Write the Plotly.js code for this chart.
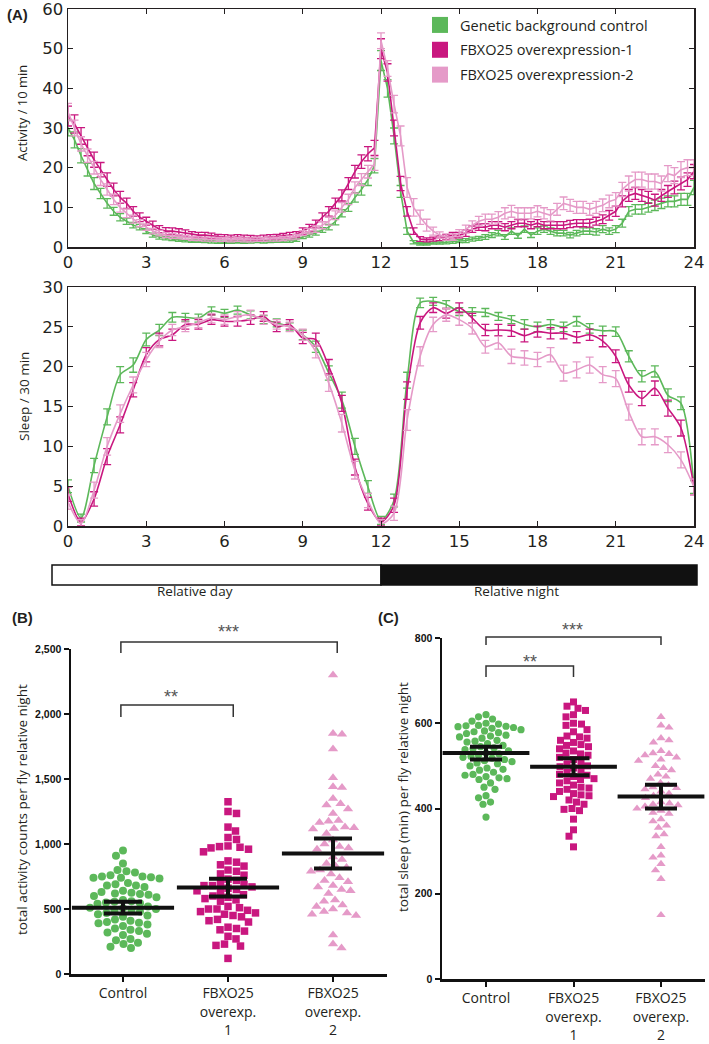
<!DOCTYPE html>
<html>
<head>
<meta charset="utf-8">
<script src="https://cdn.plot.ly/plotly-3.0.1.min.js"></script>
<style>
  html, body { margin: 0; padding: 0; background: #fff; }
  #fig { width: 709px; height: 1044px; }
</style>
</head>
<body>
<div id="fig"></div>
<script>
// ---- (A) activity per 10 min, 15-min bins from 0 to 24 h ----
const actControl = [30,27,23,19.5, 16,13.5,11,9, 7.5,6.5,5.5,5, 4,3,2.5,2.2, 2,1.8,1.6,1.5,
  1.5,1.4,1.3,1.2, 1.2,1.2,1.3,1.2, 1.3,1.4,1.3,1.4, 1.5,1.5,1.6,1.8, 2.5,3,3.5,4.3,
  5,6.4,8.5,10, 12.5,14.5,17,20.5, 47,40,28,14, 4,1.2,0.8,0.8, 1,1,1.2,1.3,
  1.5,1.6,2,2.2, 2.5,3,3.5,2.5, 4,2.8,4.5,3, 4,4.5,4,3.5, 3.5,3,3.5,4,
  4,3.8,4.5,4, 4.5,6,9,9.5, 9.5,10,10.5,11, 11.5,11.5,12,12, 15];
const actOver1 = [33,31,28,25, 22,19.5,17,14.5, 12.5,11,9,7.5, 6.5,5.5,4.5,4, 4,3.8,3.5,3.2,
  3,3,2.8,2.6, 2.5,2.4,2.5,2.4, 2.3,2.2,2.4,2.5, 2.6,2.8,3,3.2, 4,4.8,5.8,7.5,
  9,11,13,16, 19,21.5,23.5,25, 50,44,30,16, 9,4,2,1.8, 2,2.2,2.5,3,
  3,3.5,4.5,5, 5,5.5,5.5,5, 5.5,6,6,5.5, 6,5.5,5.5,5.5, 5.5,5.8,6,6,
  6,6.5,7,8, 9,11.5,13,13.5, 13,12.5,11.8,13, 14,15,16,17, 19];
const actOver2 = [34,30,26,23, 20,17,14.5,12, 10,8.5,7,6, 5,4,3.5,3, 2.8,2.6,2.4,2.2,
  2.1,2,2,1.9, 1.9,1.8,1.9,1.8, 1.8,1.9,1.9,2, 2,2.1,2.3,2.6, 3.5,4,4.5,5.5,
  6.5,8,10,12, 15,17,19,21, 52,45,36,28, 15,10,7.5,5.5, 4,3,2.5,2.5,
  3.5,4.5,5.5,6.5, 7,7,7.5,8.5, 9,8.5,8.5,8.5, 9,8.5,8,9.5, 11,10.5,10,10,
  9.5,10,10.5,11.5, 12,14.5,16,17, 17,16.5,16.5,16, 18.5,18,19.5,20, 20];
const actControlErr = [2,2,1.8,1.6, 1.5,1.3,1.2,1, 0.9,0.8,0.7,0.7, 0.6,0.5,0.5,0.4, 0.4,0.4,0.3,0.3,
  0.3,0.3,0.3,0.3, 0.3,0.3,0.3,0.3, 0.3,0.3,0.3,0.3, 0.3,0.3,0.4,0.4, 0.4,0.5,0.5,0.6,
  0.7,0.8,0.9,1, 1.2,1.4,1.5,1.8, 2.5,2.2,2,1.5, 0.8,0.4,0.3,0.3, 0.3,0.3,0.4,0.4,
  0.4,0.5,0.5,0.5, 0.6,0.6,0.7,0.6, 0.8,0.6,0.8,0.6, 0.8,0.8,0.8,0.7, 0.7,0.7,0.7,0.8,
  0.8,0.8,0.9,0.8, 0.9,1,1.2,1.2, 1.2,1.2,1.3,1.3, 1.4,1.4,1.5,1.5, 1.8];
const actOver1Err = [2.5,2.3,2.1,2, 1.9,1.8,1.7,1.6, 1.5,1.3,1.2,1.1, 1,1,0.9,0.9, 0.8,0.8,0.8,0.7,
  0.7,0.7,0.7,0.6, 0.6,0.6,0.6,0.6, 0.6,0.6,0.6,0.6, 0.6,0.6,0.7,0.7, 0.8,0.9,1,1.1,
  1.2,1.3,1.4,1.5, 1.6,1.7,1.8,1.9, 2.5,2.2,2,1.8, 1.2,0.8,0.6,0.5, 0.5,0.6,0.6,0.7,
  0.7,0.8,0.8,0.8, 0.9,0.9,0.9,0.9, 0.9,0.9,0.9,0.9, 0.9,0.9,0.9,0.9, 0.9,0.9,0.9,0.9,
  1,1,1.1,1.2, 1.3,1.4,1.5,1.5, 1.5,1.5,1.5,1.5, 1.5,1.6,1.6,1.7, 1.8];
const actOver2Err = [2.2,2,1.8,1.7, 1.6,1.5,1.4,1.3, 1.2,1.1,1,0.9, 0.8,0.7,0.7,0.6, 0.6,0.5,0.5,0.5,
  0.5,0.5,0.5,0.5, 0.5,0.5,0.5,0.5, 0.5,0.5,0.5,0.5, 0.5,0.5,0.5,0.6, 0.6,0.7,0.8,0.9,
  1,1.1,1.2,1.3, 1.4,1.5,1.6,1.7, 2,2,2.2,2.5, 2.5,2.2,1.8,1.5, 1,0.8,0.8,0.8,
  0.9,1,1.1,1.2, 1.3,1.3,1.4,1.4, 1.5,1.4,1.4,1.4, 1.4,1.4,1.4,1.5, 1.6,1.5,1.5,1.5,
  1.5,1.5,1.6,1.6, 1.7,1.8,1.9,1.9, 1.9,1.9,1.9,1.9, 2,2,2,2, 2];

// ---- (A) sleep per 30 min, 30-min bins from 0 to 24 h ----
const sleepControl = [5,1,7.6,13.7,19,20.2,23.4,24.6,26.2,26.2,26.1,27,
  26.7,27.1,26.5,25.9,25.5,25,24,22.5,19.2,15.8,10,4.9,
  0.7,3.2,18.3,28,28.2,27.8,26.9,26.9,26.8,26.3,25.9,25.3,
  25,25.3,25,25.7,24.8,24.5,24.4,21.3,18.8,19.4,16.4,15.4, 4.9];
const sleepOver1 = [4,0.5,3.4,8.7,12.7,17.1,21.5,23.4,24,25.3,25.3,25.9,
  25.7,25.7,25.9,26.3,25,25.3,23.6,23.4,20,15.4,7.4,2.8,
  0.5,2.6,17,25.5,27.4,26.7,27.4,26.1,24.6,24.6,24.5,23.9,
  24.4,24.2,24.2,23.7,24,23.2,21.3,17.7,16,17.3,14.8,12.3, 4.9];
const sleepOver2 = [3,0.3,4.5,10,14.1,17.7,20.9,23.2,24.6,25,25.5,26.1,
  25.9,26.3,26.5,25.9,25.3,25,24,21.9,17.9,12.9,7,3.2,
  0.3,1.6,13.3,21.3,25.3,26.5,25.9,24.8,22.5,23,21.3,21.1,
  20.9,21.5,19.2,19.6,20.2,19,18.5,14.3,11.2,11.2,10.2,8.3, 4.9];
const sleepControlErr = [0.8,0.5,0.9,1,1,0.9,0.8,0.7,0.6,0.5,0.5,0.5,
  0.5,0.5,0.5,0.5,0.5,0.5,0.6,0.7,0.9,1,1,0.8,
  0.5,0.8,1,0.6,0.5,0.5,0.5,0.5,0.5,0.5,0.5,0.6,
  0.6,0.6,0.6,0.6,0.6,0.6,0.6,0.7,0.7,0.7,0.8,0.8, 0.8];
const sleepOver1Err = [0.9,0.5,0.9,1,1,0.9,0.9,0.8,0.7,0.6,0.6,0.6,
  0.6,0.6,0.6,0.6,0.6,0.6,0.7,0.8,0.9,1,1,0.8,
  0.5,0.9,1.1,0.8,0.6,0.6,0.6,0.6,0.7,0.7,0.7,0.8,
  0.7,0.7,0.7,0.7,0.7,0.7,0.8,0.9,0.9,0.9,1,1, 1];
const sleepOver2Err = [0.9,0.5,1,1.1,1.1,1,0.9,0.8,0.7,0.6,0.6,0.6,
  0.6,0.6,0.6,0.6,0.6,0.6,0.7,0.8,1,1.1,1.1,0.9,
  0.5,0.9,1.3,1.2,0.9,0.8,0.7,0.7,0.8,0.8,0.9,0.9,
  0.9,0.9,1,1,1,1,1,1,1,1,1,1, 1];

const seriesNames = ['Genetic background control', 'FBXO25 overexpression-1', 'FBXO25 overexpression-2'];
const groupLabels = ['Control', 'FBXO25<br>overexp.<br>1', 'FBXO25<br>overexp.<br>2'];

// ---- (B) total activity counts per fly, relative night ----
const nightActControl = [950,910,850,800,790,780,760,750,750,745,740,740,735,700,690,680,680,670,640,630,
  625,620,615,610,600,590,570,560,555,550,545,540,520,510,505,500,495,490,480,470,
  460,450,440,420,410,400,395,390,380,370,350,340,330,320,310,300,270,260,240,230,210,200];
const nightActOver1 = [1325,1250,1235,1130,1100,1050,1035,985,980,975,970,960,940,870,860,840,830,800,790,770,
  760,730,720,700,690,680,680,670,660,650,640,630,610,600,590,580,570,560,520,510,
  500,500,490,480,470,460,450,440,420,410,400,360,350,340,330,290,270,230,220,215,120];
const nightActOver2 = [2300,1850,1845,1730,1510,1440,1435,1350,1310,1300,1270,1235,1180,1175,1165,1130,1125,1120,1115,1080,
  1030,1000,980,970,960,900,880,850,830,820,800,790,770,740,720,710,680,670,650,640,
  620,570,560,530,520,500,480,470,460,450,300,230,200];
const nightActMean = [510, 665, 927];
const nightActSem = [45, 68, 115];

// ---- (C) total sleep (min) per fly, relative night ----
const nightSleepControl = [620,615,610,605,600,598,595,594,593,592,590,588,585,582,580,578,576,572,570,568,
  565,560,558,556,552,548,545,542,540,538,535,530,528,525,522,520,518,515,512,510,
  507,505,500,495,492,490,485,480,478,475,472,470,468,460,450,445,430,425,415,410,380];
const nightSleepOver1 = [650,640,635,630,620,615,600,598,595,585,580,570,568,565,560,555,550,548,545,540,
  535,530,528,525,520,515,510,505,500,498,495,490,485,480,478,475,470,468,465,460,
  455,450,448,445,440,435,432,430,428,420,415,410,400,398,395,375,350,335,310];
const nightSleepOver2 = [615,595,590,565,560,555,535,530,528,525,520,515,512,500,495,490,480,475,470,460,
  455,450,448,445,440,435,430,425,415,412,410,408,405,400,395,390,388,375,370,360,
  355,340,335,310,290,285,270,255,235,150];
const nightSleepMean = [530, 498, 428];
const nightSleepSem = [15, 20, 28];

const GREEN = '#5cb85a';
const MAGENTA = '#c9177f';
const PINK = '#e59ac8';
const INK = '#231f20';
const colors = [GREEN, MAGENTA, PINK];

const W = 709, H = 1044;
const px = v => v / W;            // pixel -> paper x
const py = v => 1 - v / H;        // pixel -> paper y

// bin times
const hoursAct = [];
for (let i = 0; i <= 96; i++) hoursAct.push(i / 4);
const hoursSleep = [];
for (let i = 0; i <= 48; i++) hoursSleep.push(i / 2);

function curve(x, y, err, color, xa, ya, shape) {
  return {x: x, y: y, xaxis: xa, yaxis: ya, type: 'scatter', mode: 'lines', showlegend: false,
          line: {color: color, width: 1.6, shape: shape, smoothing: 0.8},
          error_y: {type: 'data', array: err, visible: true, color: color, thickness: 1.3, width: 4}};
}

// simple beeswarm: horizontal offsets (in category units) so markers do not overlap
function swarm(vals, pxPerY, pxPerCat, diam) {
  const order = vals.map((_, i) => i).sort((a, b) => vals[b] - vals[a]);
  const placed = [];
  const out = new Array(vals.length).fill(0);
  order.forEach(function (i, n) {
    const yy = vals[i] * pxPerY;
    const flip = n % 2 ? -1 : 1;
    for (let k = 0; k < 600; k++) {
      const xx = flip * (k % 2 ? 1 : -1) * Math.ceil(k / 2) * 0.5;
      const hit = placed.some(p => (p.x - xx) * (p.x - xx) + (p.y - yy) * (p.y - yy) < diam * diam);
      if (!hit) { placed.push({x: xx, y: yy}); out[i] = xx / pxPerCat; break; }
    }
  });
  return out;
}

// panel geometry in pixels
const A1 = {x0: 68, x1: 694, y0: 9, y1: 247};
const A2 = {x0: 68, x1: 694, y0: 287, y1: 526};
const PB = {x0: 71, x1: 387, y0: 649, y1: 974, r: [-0.495, 2.514], ymax: 2500};
const PC = {x0: 442, x1: 705, y0: 638, y1: 979, r: [-0.503, 2.503], ymax: 800};

function dots(vals, cat, panel, diam, symbol, size, color, xa, ya) {
  const pxPerY = (panel.y1 - panel.y0) / panel.ymax;
  const pxPerCat = (panel.x1 - panel.x0) / (panel.r[1] - panel.r[0]);
  const off = swarm(vals, pxPerY, pxPerCat, diam);
  return {x: off.map(o => cat + o), y: vals, xaxis: xa, yaxis: ya, type: 'scatter', mode: 'markers',
          showlegend: false, marker: {symbol: symbol, size: size, color: color, line: {width: 0}}};
}

function meanBars(means, sems, xa, ya, barLen, capHalf) {
  return {x: [0, 1, 2], y: means, xaxis: xa, yaxis: ya, type: 'scatter', mode: 'markers', showlegend: false,
          marker: {symbol: 'line-ew', size: barLen, color: '#111', line: {color: '#111', width: 4}},
          error_y: {type: 'data', array: sems, visible: true, color: '#111', thickness: 4, width: capHalf}};
}

const actSeries = [actControl, actOver1, actOver2];
const actErrs = [actControlErr, actOver1Err, actOver2Err];
const sleepSeries = [sleepControl, sleepOver1, sleepOver2];
const sleepErrs = [sleepControlErr, sleepOver1Err, sleepOver2Err];

const data = [];
for (let s = 0; s < 3; s++) data.push(curve(hoursAct, actSeries[s], actErrs[s], colors[s], 'x', 'y', 'linear'));
for (let s = 0; s < 3; s++) data.push(curve(hoursSleep, sleepSeries[s], sleepErrs[s], colors[s], 'x2', 'y2', 'spline'));
for (let s = 0; s < 3; s++) {
  data.push({x: [null], y: [null], xaxis: 'x', yaxis: 'y', type: 'scatter', mode: 'markers', name: seriesNames[s],
             legendgroup: 'g' + s, marker: {symbol: 'square', size: 16, color: colors[s]}});
}

data.push(dots(nightActControl, 0, PB, 8.4, 'circle', 8, GREEN, 'x3', 'y3'));
data.push(dots(nightActOver1, 1, PB, 8.4, 'square', 7.5, MAGENTA, 'x3', 'y3'));
data.push(dots(nightActOver2, 2, PB, 9, 'triangle-up', 9, PINK, 'x3', 'y3'));
data.push(meanBars(nightActMean, nightActSem, 'x3', 'y3', 73, 19));

data.push(dots(nightSleepControl, 0, PC, 7.6, 'circle', 7.2, GREEN, 'x4', 'y4'));
data.push(dots(nightSleepOver1, 1, PC, 7.6, 'square', 7, MAGENTA, 'x4', 'y4'));
data.push(dots(nightSleepOver2, 2, PC, 8.2, 'triangle-up', 8.2, PINK, 'x4', 'y4'));
data.push(meanBars(nightSleepMean, nightSleepSem, 'x4', 'y4', 62, 16));

const aAxis = {showline: true, linecolor: INK, linewidth: 1.5, mirror: 'ticks', ticks: 'inside', ticklen: 5,
               tickwidth: 1, tickcolor: INK, showgrid: false, zeroline: false, ticklabeloverflow: 'allow',
               tickfont: {family: 'DejaVu Sans', size: 16.5, color: INK}};
const pAxis = {showline: true, linecolor: '#111', linewidth: 2.5, ticks: 'outside', ticklen: 5, tickwidth: 2,
               tickcolor: '#111', showgrid: false, zeroline: false};
const yTickFont = {family: 'Liberation Sans', size: 10.5, weight: 'bold', color: '#111'};
const xTickFont = {family: 'Open Sans', size: 14, color: INK};

function note(text, x, y, font, angle) {
  return {text: text, x: px(x), y: py(y), xref: 'paper', yref: 'paper', xanchor: 'center', yanchor: 'middle',
          showarrow: false, textangle: angle || 0, font: font};
}
const titleFont = {family: 'Open Sans', size: 13.5, color: INK};
const panelFont = {family: 'Liberation Sans', size: 15, color: INK};
const starFont = {family: 'Liberation Sans', size: 18, color: '#555'};

const layout = {
  width: W, height: H, margin: {l: 0, r: 0, t: 0, b: 0},
  paper_bgcolor: '#fff', plot_bgcolor: 'rgba(0,0,0,0)',
  font: {family: 'Open Sans', color: INK},
  xaxis: Object.assign({}, aAxis, {domain: [px(A1.x0), px(A1.x1)], range: [0, 24], tickvals: [0,3,6,9,12,15,18,21,24], anchor: 'y'}),
  yaxis: Object.assign({}, aAxis, {domain: [py(A1.y1), py(A1.y0)], range: [0, 60], dtick: 10, anchor: 'x'}),
  xaxis2: Object.assign({}, aAxis, {domain: [px(A2.x0), px(A2.x1)], range: [0, 24], tickvals: [0,3,6,9,12,15,18,21,24], anchor: 'y2'}),
  yaxis2: Object.assign({}, aAxis, {domain: [py(A2.y1), py(A2.y0)], range: [0, 30], dtick: 5, anchor: 'x2'}),
  xaxis3: Object.assign({}, pAxis, {domain: [px(PB.x0), px(PB.x1)], range: PB.r, tickvals: [0, 1, 2], ticktext: groupLabels,
                                    tickfont: xTickFont, anchor: 'y3'}),
  yaxis3: Object.assign({}, pAxis, {domain: [py(PB.y1), py(PB.y0)], range: [0, PB.ymax], tickvals: [0, 500, 1000, 1500, 2000, 2500],
                                    tickformat: ',d', tickfont: yTickFont, anchor: 'x3'}),
  xaxis4: Object.assign({}, pAxis, {domain: [px(PC.x0), px(PC.x1)], range: PC.r, tickvals: [0, 1, 2], ticktext: groupLabels,
                                    tickfont: xTickFont, anchor: 'y4'}),
  yaxis4: Object.assign({}, pAxis, {domain: [py(PC.y1), py(PC.y0)], range: [0, PC.ymax], tickvals: [0, 200, 400, 600, 800],
                                    tickfont: yTickFont, anchor: 'x4'}),
  showlegend: true,
  legend: {x: px(420), y: py(9), xanchor: 'left', yanchor: 'top', bgcolor: 'rgba(0,0,0,0)',
           font: {family: 'Open Sans', size: 14.5, color: INK}, tracegroupgap: 3},
  shapes: [
    {type: 'rect', xref: 'paper', yref: 'paper', x0: px(52), x1: px(381), y0: py(585), y1: py(565),
     fillcolor: '#fff', line: {color: '#111', width: 1.5}},
    {type: 'rect', xref: 'paper', yref: 'paper', x0: px(381), x1: px(697), y0: py(585), y1: py(565),
     fillcolor: '#111', line: {color: '#111', width: 1.5}},
    {type: 'path', xref: 'x3', yref: 'paper', line: {color: '#333', width: 1.5},
     path: 'M -0.02,' + py(653) + ' L -0.02,' + py(642) + ' L 2.04,' + py(642) + ' L 2.04,' + py(653)},
    {type: 'path', xref: 'x3', yref: 'paper', line: {color: '#333', width: 1.5},
     path: 'M -0.02,' + py(717) + ' L -0.02,' + py(705) + ' L 1.05,' + py(705) + ' L 1.05,' + py(717)},
    {type: 'path', xref: 'x4', yref: 'paper', line: {color: '#333', width: 1.5},
     path: 'M 0,' + py(645) + ' L 0,' + py(637) + ' L 2,' + py(637) + ' L 2,' + py(645)},
    {type: 'path', xref: 'x4', yref: 'paper', line: {color: '#333', width: 1.5},
     path: 'M 0,' + py(677) + ' L 0,' + py(666) + ' L 1,' + py(666) + ' L 1,' + py(677)}
  ],
  annotations: [
    note('<b>(A)</b>', 17, 14, panelFont),
    note('<b>(B)</b>', 22, 617, panelFont),
    note('<b>(C)</b>', 388, 617, panelFont),
    note('Activity / 10 min', 22, 113, {family: 'Open Sans', size: 13, color: INK}, -90),
    note('Sleep / 30 min', 24, 397, titleFont, -90),
    note('Relative day', 195, 591, titleFont),
    note('Relative night', 516, 591, titleFont),
    note('total activity counts per fly relative night', 22, 810, titleFont, -90),
    note('total sleep (min) per fly relative night', 403, 797, titleFont, -90),
    note('***', 228, 632, starFont),
    note('**', 171, 697, starFont),
    note('***', 572, 630, starFont),
    note('**', 530, 662, starFont)
  ]
};

Plotly.newPlot('fig', data, layout, {displayModeBar: false, staticPlot: true});
</script>
</body>
</html>
